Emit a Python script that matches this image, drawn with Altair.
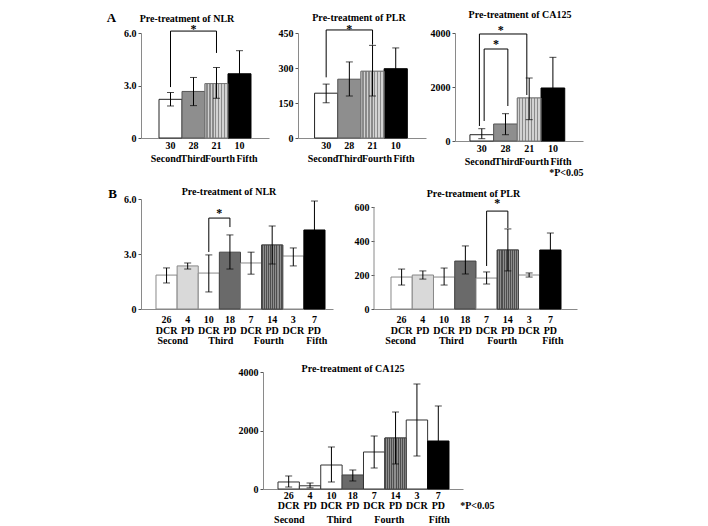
import altair as alt
import pandas as pd

FONT = "Liberation Serif"

# ---------------- Panel A: by treatment line ----------------
a_groups = ["Second", "Third", "Fourth", "Fifth"]
a_n = [30, 28, 21, 10]
a_nlr = [2.21, 2.66, 3.11, 3.67]
a_nlr_lo = [1.83, 1.85, 2.27, 2.35]
a_nlr_hi = [2.60, 3.46, 4.03, 4.99]
a_plr = [192, 252, 286, 297]
a_plr_lo = [151, 180, 180, 208]
a_plr_hi = [231, 326, 397, 386]
a_ca = [233, 630, 1593, 1963]
a_ca_lo = [86, 233, 790, 830]
a_ca_hi = [456, 1012, 2333, 3099]

# ---------------- Panel B: by line and response ----------------
b_lines = ["Second", "Third", "Fourth", "Fifth"]
b_groups = ["Second", "Second", "Third", "Third", "Fourth", "Fourth", "Fifth", "Fifth"]
b_resp = ["DCR", "PD", "DCR", "PD", "DCR", "PD", "DCR", "PD"]
b_n = [26, 4, 10, 18, 7, 14, 3, 7]
b_nlr = [1.85, 2.35, 1.96, 3.10, 2.51, 3.49, 2.89, 4.31]
b_nlr_lo = [1.42, 2.18, 0.93, 2.18, 1.90, 2.45, 2.35, 2.73]
b_nlr_hi = [2.24, 2.51, 2.95, 4.04, 3.10, 4.53, 3.33, 5.89]
b_plr = [188, 200, 188, 282, 182, 347, 200, 347]
b_plr_lo = [141, 176, 141, 206, 147, 224, 188, 247]
b_plr_hi = [235, 224, 241, 371, 218, 471, 212, 447]
b_ca = [240, 110, 820, 480, 1265, 1744, 2359, 1641]
b_ca_lo = [68, 40, 240, 274, 718, 856, 1128, 444]
b_ca_hi = [445, 205, 1436, 650, 1812, 2632, 3590, 2838]

# significance brackets: (bar index, value) path points
brk_a_nlr = [(0, 2.91), (0, 6.11), (2, 6.11), (2, 4.86)]
brk_a_plr = [(0, 260), (0, 463), (2, 463), (2, 400)]
brk_a_ca_outer = [(0, 556), (0, 3963), (2, 3963), (2, 1704)]
brk_a_ca_inner = [(0, 741), (0, 3407), (1, 3407), (1, 1296)]
brk_b_nlr = [(2, 3.11), (2, 4.96), (3, 4.96), (3, 4.47)]
brk_b_plr = [(4, 253), (4, 576), (5, 576), (5, 476)]
# stars: (bar index, value)
star_a_nlr = (1, 6.23)
star_a_plr = (1, 467)
star_a_ca_outer = (1, 4111)
star_a_ca_inner = (1, 3593)
star_b_nlr = (3, 5.24)
star_b_plr = (5, 622)

a_keys = [f"{n}|{g}" for n, g in zip(a_n, a_groups)]
b_keys = [f"{n}|{r}|{g}" for n, r, g in zip(b_n, b_resp, b_groups)]


def stripes(c1, c2, n):
    stops = []
    for k in range(n):
        a, b, c = k / n, (k + 0.5) / n, (k + 1) / n
        stops += [{"offset": a, "color": c1}, {"offset": b, "color": c1},
                  {"offset": b, "color": c2}, {"offset": c, "color": c2}]
    return {"gradient": "linear", "stops": stops, "x1": 0, "x2": 1, "y1": 0, "y2": 0}


A_FILLS = ["#ffffff", "#8e8e8e", "#b0b0b0", "#000000"]
A_STROKES = ["#222222", "#555555", "#777777", "#000000"]
B_FILLS = ["#ffffff", "#d9d9d9", "#ffffff", "#6a6a6a", "#ffffff", "#707070", "#ffffff", "#000000"]
B_STROKES = ["#888888", "#888888", "#888888", "#444444", "#888888", "#444444", "#888888", "#000000"]
B3_FILLS = ["#ffffff", "#ffffff", "#ffffff", "#6a6a6a", "#ffffff", "#707070", "#ffffff", "#000000"]
B3_STROKES = ["#333333", "#333333", "#333333", "#444444", "#333333", "#444444", "#333333", "#000000"]
STRIPE = stripes("#d2d2d2", "#8a8a8a", 8)
DOTS = stripes("#4e4e4e", "#8e8e8e", 10)


def yaxis(values, expr=None, title=None, tx=0, ty=0, domain=True):
    kw = dict(values=values, grid=False, tickSize=3, tickColor="#555555",
              domainColor="#8a8a8a", labelFontSize=10, labelFont=FONT,
              labelFontWeight="bold", labelColor="black", labelPadding=2,
              domain=domain, orient="left")
    if expr:
        kw["labelExpr"] = expr
    else:
        kw["format"] = "d"
    if title:
        kw.update(title=title, titleAngle=0, titleX=tx, titleY=ty, titleFont=FONT,
                  titleFontSize=13, titleFontWeight="bold", titleAlign="center",
                  titleBaseline="middle", titleColor="black")
    else:
        kw["title"] = None
    return alt.Axis(**kw)


def xaxis(expr, pad, lh, title=None, tx=0, ty=0, domain=True):
    kw = dict(labelAngle=0, ticks=False, labelPadding=pad,
              labelLineHeight=lh, labelFontSize=10, labelFont=FONT,
              labelFontWeight="bold", labelColor="black", domain=domain,
              domainColor="#8a8a8a", orient="bottom")
    if expr:
        kw["labelExpr"] = expr
    if title:
        kw.update(title=title, titleX=tx, titleY=ty, titleFont=FONT, titleFontSize=10,
                  titleFontWeight="bold", titleAlign="right", titleBaseline="middle",
                  titleColor="black")
    else:
        kw["title"] = None
    return alt.Axis(**kw)


def panel(keys, vals, los, his, fills, strokes, pattern, ymax, y_axis, bar_axis,
          groups, group_scale, group_axis, width, height, po, al, brackets, stars,
          title, ydomain_rule=None):
    df = pd.DataFrame({"key": keys, "val": vals, "lo": los, "hi": his,
                       "fillc": fills, "strokec": strokes})
    sx = alt.Scale(domain=keys, paddingInner=0, paddingOuter=po, align=al)
    sy = alt.Scale(domain=[0, ymax], nice=False, zero=True)

    def X(bp=None):
        if bp is None:
            return alt.X("key:N", sort=keys, scale=sx, axis=bar_axis)
        return alt.X("key:N", sort=keys, scale=sx, axis=bar_axis, bandPosition=bp)

    def Y(field):
        return alt.Y(field, scale=sy, axis=y_axis)

    base = alt.Chart(df)
    layers = [base.mark_bar(strokeWidth=1).encode(
        x=X(), y=Y("val:Q"),
        fill=alt.Fill("fillc:N", scale=None, legend=None),
        stroke=alt.Stroke("strokec:N", scale=None, legend=None),
    )]
    for idx, grad in pattern:
        layers.append(base.transform_filter(alt.datum.key == keys[idx])
                      .mark_bar(fill=grad, stroke=strokes[idx], strokeWidth=1)
                      .encode(x=X(), y=Y("val:Q")))
    if ydomain_rule is not None:
        layers.append(alt.Chart(pd.DataFrame({"a": [0]})).mark_rule(color="#8a8a8a").encode(
            x=alt.value(0), y=alt.Y(datum=0, scale=sy, axis=y_axis), y2=alt.Y2(datum=ydomain_rule)))
    layers.append(base.mark_rule(color="black", strokeWidth=1).encode(
        x=X(), y=Y("lo:Q"), y2="hi:Q"))
    layers.append(base.transform_fold(["lo", "hi"], as_=["end", "v"])
                  .mark_tick(color="black", size=7, thickness=1)
                  .encode(x=X(), y=Y("v:Q")))
    for pts, bp in brackets:
        bdf = pd.DataFrame({"key": [keys[i] for i, _ in pts], "val": [v for _, v in pts],
                            "ord": list(range(len(pts)))})
        layers.append(alt.Chart(bdf).mark_line(color="black", strokeWidth=1).encode(
            x=X(bp), y=Y("val:Q"), order="ord:Q"))
    for (i, v), bp in stars:
        sdf = pd.DataFrame({"key": [keys[i]], "val": [v]})
        layers.append(alt.Chart(sdf).mark_text(text="*", font=FONT, fontSize=12,
                                               fontWeight="bold", color="black")
                      .encode(x=X(bp), y=Y("val:Q")))
    ch = alt.layer(*layers)
    gdf = pd.DataFrame({"grp": groups})
    gl = alt.Chart(gdf).mark_point(opacity=0).encode(
        x=alt.X("grp:N", sort=groups, scale=group_scale, axis=group_axis),
        y=alt.value(0))
    ch = alt.layer(ch, gl).resolve_scale(x="independent")
    return ch.properties(width=width, height=height, title=title)


def ttl(text, dx, offset):
    return alt.TitleParams(text=text, font=FONT, fontSize=10, fontWeight="bold",
                           color="black", anchor="middle", frame="group", dx=dx,
                           offset=offset)


def a_gscale():
    return alt.Scale(domain=a_groups, range=[11, 119], paddingInner=0, paddingOuter=0)


def b_gscale(po, al):
    return alt.Scale(domain=b_lines, paddingInner=0, paddingOuter=po / 2, align=al)


A_X = "split(datum.label, '|')[0]"
B_X = "slice(split(datum.label, '|'), 0, 2)"
F1 = "datum.value == 0 ? '0' : format(datum.value, '.1f')"

A1 = panel(a_keys, a_nlr, a_nlr_lo, a_nlr_hi, A_FILLS, A_STROKES, [(2, STRIPE)], 6,
           yaxis([0, 3, 6], F1, "A", -30, -16), xaxis(A_X, 2, 13),
           a_groups, a_gscale(), xaxis(None, 15, 13, domain=False),
           128, 105, 0.783, 0.5, [(brk_a_nlr, 0.5)], [(star_a_nlr, 0.5)],
           ttl("Pre-treatment of NLR", -18, -13))
A2 = panel(a_keys, a_plr, a_plr_lo, a_plr_hi, A_FILLS, A_STROKES, [(2, STRIPE)], 450,
           yaxis([0, 150, 300, 450]), xaxis(A_X, 2, 13),
           a_groups, a_gscale(), xaxis(None, 15, 13, domain=False),
           128, 105, 0.76, 0.47, [(brk_a_plr, 0.5)], [(star_a_plr, 0.5)],
           ttl("Pre-treatment of PLR", -3, 0))
A3 = panel(a_keys, a_ca, a_ca_lo, a_ca_hi, A_FILLS, A_STROKES, [(2, STRIPE)], 4000,
           yaxis([0, 2000, 4000]), xaxis(A_X, 2, 13),
           a_groups, a_gscale(), xaxis(None, 15, 13, "*P<0.05", 128, 31, domain=False),
           128, 108, 0.70, 0.45,
           [(brk_a_ca_outer, 0.4), (brk_a_ca_inner, 0.6)],
           [(star_a_ca_outer, 0.3), (star_a_ca_inner, 0.1)],
           ttl("Pre-treatment of CA125", 1, 4))

B1 = panel(b_keys, b_nlr, b_nlr_lo, b_nlr_hi, B_FILLS, B_STROKES, [(5, DOTS)], 6,
           yaxis([0, 3, 6], F1, "B", -29, -5.5), xaxis(B_X, 5, 11),
           b_lines, b_gscale(0.544, 0.652), xaxis(None, 26, 11, domain=False),
           192, 110, 0.544, 0.652, [(brk_b_nlr, 0.5)], [(star_b_nlr, 0.0)],
           ttl("Pre-treatment of NLR", -8, -9))
B2 = panel(b_keys, b_plr, b_plr_lo, b_plr_hi, B_FILLS, B_STROKES, [(5, DOTS)], 647.06,
           yaxis([0, 200, 400, 600], domain=False), xaxis(B_X, 5, 11),
           b_lines, b_gscale(0.776, 0.515), xaxis(None, 26, 11, domain=False),
           203, 110, 0.776, 0.515, [(brk_b_plr, 0.5)], [(star_b_plr, 0.0)],
           ttl("Pre-treatment of PLR", -2, -3), ydomain_rule=600)
B3 = panel(b_keys, b_ca, b_ca_lo, b_ca_hi, B3_FILLS, B3_STROKES, [(5, DOTS)], 4000,
           yaxis([0, 2000, 4000]), xaxis(B_X, 1, 10),
           b_lines, b_gscale(0.678, 0.517),
           xaxis(None, 25, 10, "*P<0.05", 231, 16, domain=False),
           200, 117, 0.678, 0.517, [], [],
           ttl("Pre-treatment of CA125", -10, -7))

spacer = alt.Chart(pd.DataFrame({"a": [0]})).mark_point(opacity=0).encode(
    x=alt.value(0), y=alt.value(0)).properties(width=122, height=10)

rowA = alt.hconcat(A1, A2, A3, spacing=29, bounds="flush")
rowB = alt.hconcat(B1, B2, spacing=41, bounds="flush")
rowC = alt.hconcat(spacer, B3, spacing=0, bounds="flush")
top = alt.vconcat(rowA, rowB, spacing=9)
chart = alt.vconcat(top, rowC, spacing=19).properties(
    padding={"left": 98, "top": 2, "right": 5, "bottom": 0}
).configure(background="white", view=alt.ViewConfig(stroke=None))

chart.save("out.html", embed_options={"renderer": "svg", "actions": False})
